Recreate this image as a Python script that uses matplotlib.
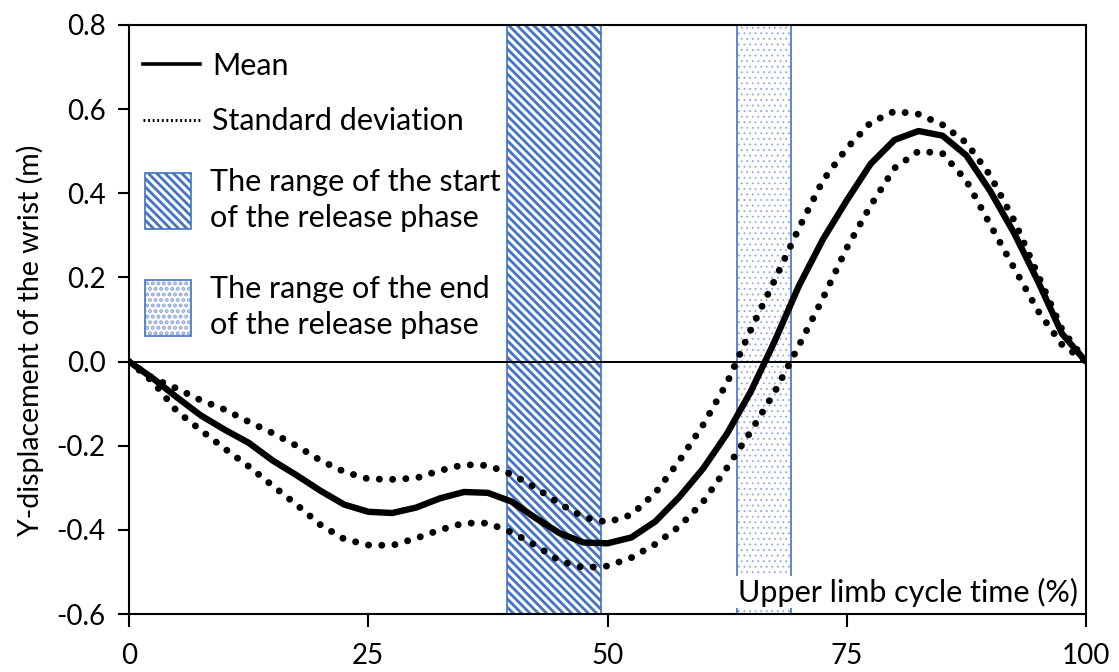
import numpy as np
import matplotlib.pyplot as plt
from matplotlib.lines import Line2D
from matplotlib.patches import Patch, Rectangle
from matplotlib.legend_handler import HandlerPatch

plt.rcParams['font.family'] = ['Lato', 'DejaVu Sans']
plt.rcParams['hatch.linewidth'] = 2.0

# upper limb cycle time (%)
cycle = [0, 2.5, 5, 7.5, 10, 12.5, 15, 17.5, 20, 22.5, 25, 27.5, 30, 32.5, 35,
         37.5, 40, 42.5, 45, 47.5, 50, 52.5, 55, 57.5, 60, 62.5, 65, 67.5, 70,
         72.5, 75, 77.5, 80, 82.5, 85, 87.5, 90, 92.5, 95, 97.5, 100]

mean_disp = [0, -0.04, -0.085, -0.128, -0.162, -0.193, -0.235, -0.27, -0.307,
             -0.34, -0.357, -0.36, -0.347, -0.325, -0.31, -0.312, -0.333,
             -0.372, -0.408, -0.43, -0.432, -0.418, -0.38, -0.322, -0.254,
             -0.171, -0.07, 0.05, 0.18, 0.29, 0.383, 0.47, 0.527, 0.548,
             0.537, 0.49, 0.405, 0.305, 0.19, 0.066, 0]

upper_sd = [0, -0.04, -0.064, -0.092, -0.114, -0.143, -0.17, -0.2, -0.235,
            -0.262, -0.279, -0.28, -0.277, -0.259, -0.245, -0.247, -0.268,
            -0.3, -0.338, -0.37, -0.382, -0.364, -0.312, -0.236, -0.15,
            -0.05, 0.077, 0.195, 0.317, 0.43, 0.507, 0.568, 0.595, 0.588,
            0.563, 0.52, 0.442, 0.335, 0.205, 0.076, 0]

lower_sd = [0, -0.048, -0.118, -0.163, -0.207, -0.249, -0.295, -0.34, -0.388,
            -0.422, -0.436, -0.437, -0.42, -0.4, -0.384, -0.384, -0.406,
            -0.437, -0.474, -0.49, -0.486, -0.466, -0.434, -0.392, -0.333,
            -0.252, -0.165, -0.071, 0.038, 0.15, 0.27, 0.371, 0.46, 0.5,
            0.495, 0.43, 0.325, 0.222, 0.12, 0.04, 0]

start_range = (39.5, 49.3)
end_range = (63.5, 69.2)

blue = '#4472C4'
dot_blue = '#8EA9DB'
fs = 22


def tall_box(legend, orig_handle, xdescent, ydescent, width, height, fontsize):
    # legend swatch as tall as the two text lines next to it
    return Rectangle((-xdescent, -12.5), width, 40.5)


fig = plt.figure(figsize=(11.19, 6.72), dpi=100)
ax = fig.add_axes([0.1153, 0.0863, 0.8552, 0.8765])

ax.axvspan(*start_range, facecolor='white', edgecolor=blue, hatch='\\\\\\\\',
           lw=1.2, zorder=1)

# dotted fill in a lighter blue, outline drawn on its own
with plt.rc_context({'hatch.color': dot_blue, 'hatch.linewidth': 0.6}):
    ax.axvspan(*end_range, facecolor='white', hatch='...', lw=0, zorder=1)
    dot_fill = Patch(facecolor='white', hatch='...', lw=0)
ax.axvspan(*end_range, fill=False, edgecolor=blue, lw=1.2, zorder=1)
dot_edge = Patch(fill=False, edgecolor=blue, lw=1.2)

ax.axhline(0, color='black', lw=1.4, zorder=2)

ax.plot(cycle, mean_disp, color='black', lw=4.6, zorder=4,
        solid_capstyle='round', solid_joinstyle='round')
for sd in (upper_sd, lower_sd):
    ax.plot(cycle, sd, color='black', lw=5.0, zorder=3, linestyle=(0, (0.01, 1.9)),
            dash_capstyle='round')

ax.set_xlim(0, 100)
ax.set_ylim(-0.6, 0.8)
ax.set_xticks([0, 25, 50, 75, 100])
ax.set_yticks(np.arange(-0.6, 0.81, 0.2))
ax.set_yticklabels([f'{v:.1f}' for v in np.arange(-0.6, 0.81, 0.2)])
ax.tick_params(axis='x', length=9, width=1.5, pad=12, labelsize=20)
ax.tick_params(axis='y', length=8, width=1.5, pad=9, labelsize=20)
for s in ax.spines.values():
    s.set_linewidth(1.5)

ax.set_xlabel('Upper limb cycle time (%)', fontsize=fs,
              bbox=dict(facecolor='white', edgecolor='none', pad=1))
ax.xaxis.set_label_coords(0.8135, 0.037)
ax.xaxis.label.set_va('center')
ax.xaxis.label.set_zorder(5)

ax.set_ylabel('Y-displacement of the wrist (m)', fontsize=20.5)
ax.yaxis.set_label_coords(-0.103, 0.465)
ax.yaxis.label.set_va('center')

line_handles = [Line2D([], [], color='black', lw=2.6),
                Line2D([], [], color='black', lw=2.2, linestyle=(0, (0.6, 0.9)))]
leg1 = ax.legend(line_handles, ['Mean', 'Standard deviation'], loc='upper left',
                 bbox_to_anchor=(0.002, 0.975), frameon=False, fontsize=fs,
                 handlelength=1.86, handletextpad=0.4, labelspacing=0.9,
                 borderaxespad=0)
ax.add_artist(leg1)

patch_handles = [Patch(facecolor='white', edgecolor=blue, hatch='\\\\\\\\', lw=1.2),
                 (dot_fill, dot_edge)]
leg2 = ax.legend(patch_handles, ['The range of the start\nof the release phase',
                                 'The range of the end\nof the release phase'],
                 loc='upper left', bbox_to_anchor=(0.004, 0.778), frameon=False,
                 fontsize=fs, handlelength=1.5, handletextpad=0.62,
                 labelspacing=1.41, borderaxespad=0,
                 handler_map={Patch: HandlerPatch(patch_func=tall_box)})
for t in leg2.get_texts():
    t.set_linespacing(1.35)

fig.savefig('out.png', dpi=100)
